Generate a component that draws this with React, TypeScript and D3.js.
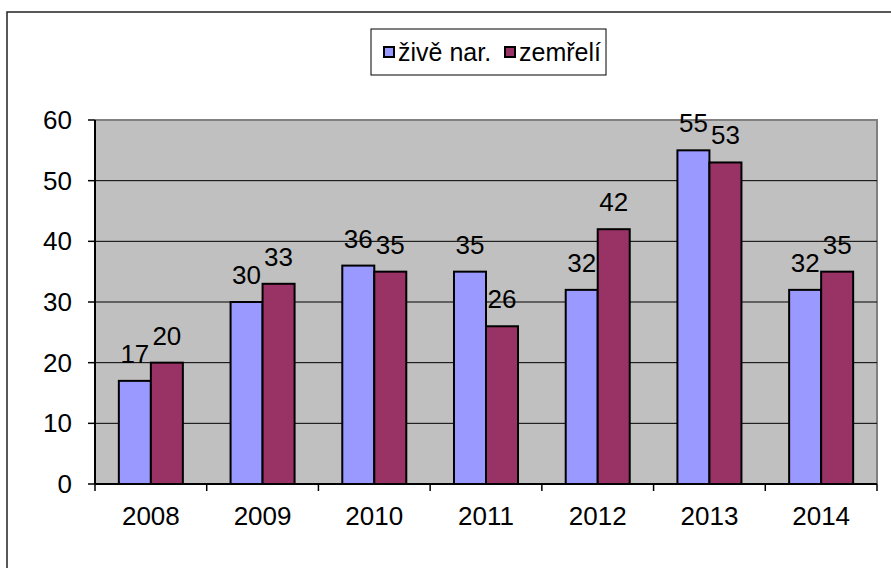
import React, { useRef, useEffect } from 'react'
import * as d3 from 'd3'

const years = ['2008', '2009', '2010', '2011', '2012', '2013', '2014']
const born = [17, 30, 36, 35, 32, 55, 32]
const died = [20, 33, 35, 26, 42, 53, 35]
const seriesNames = ['živě nar.', 'zemřelí']
const yTicks = [0, 10, 20, 30, 40, 50, 60]

const colors = ['#9999FF', '#993366']
const font = '"Liberation Sans", Arial, sans-serif'

const App: React.FC = () => {
  const svgRef = useRef<SVGSVGElement | null>(null)
  const width = 891
  const height = 568
  const margin = { top: 120, right: 14, bottom: 84, left: 95 }

  useEffect(() => {
    if (!svgRef.current) return
    const svg = d3.select(svgRef.current)
    svg.selectAll('*').remove()

    const iw = width - margin.left - margin.right
    const ih = height - margin.top - margin.bottom

    // outer frame (cut off at right and bottom)
    svg.append('rect')
      .attr('x', 7).attr('y', 12)
      .attr('width', 1000).attr('height', 1000)
      .attr('fill', 'white')
      .attr('stroke', '#222').attr('stroke-width', 1.5)

    const x = d3.scaleBand().domain(years).range([0, iw])
    const xs = d3.scaleBand().domain(['0', '1']).range([0, x.bandwidth() * 0.573]).padding(0)
    const groupOffset = (x.bandwidth() - xs.range()[1]) / 2
    const y = d3.scaleLinear().domain([0, 60]).range([ih, 0])

    const chart = svg.append('g')
      .attr('transform', `translate(${margin.left},${margin.top})`)

    // plot area
    chart.append('rect')
      .attr('width', iw).attr('height', ih)
      .attr('fill', '#C0C0C0')
    chart.append('path')
      .attr('d', `M0,0H${iw}V${ih}`)
      .attr('fill', 'none')
      .attr('stroke', '#808080').attr('stroke-width', 2)

    // gridlines
    chart.selectAll('line.grid')
      .data(yTicks.filter(t => t > 0 && t < 60))
      .enter().append('line')
      .attr('x1', 0).attr('x2', iw)
      .attr('y1', d => y(d)).attr('y2', d => y(d))
      .attr('stroke', '#000').attr('stroke-width', 1)

    // bars
    const data = years.map((yr, i) => ({ yr, vals: [born[i], died[i]] }))
    const groups = chart.selectAll('g.grp').data(data).enter().append('g')
      .attr('transform', d => `translate(${(x(d.yr) ?? 0) + groupOffset},0)`)

    groups.selectAll('rect').data(d => d.vals).enter().append('rect')
      .attr('x', (_, j) => xs(String(j)) ?? 0)
      .attr('y', d => y(d))
      .attr('width', xs.bandwidth())
      .attr('height', d => ih - y(d))
      .attr('fill', (_, j) => colors[j])
      .attr('stroke', '#000').attr('stroke-width', 2)

    groups.selectAll('text').data(d => d.vals).enter().append('text')
      .attr('x', (_, j) => (xs(String(j)) ?? 0) + xs.bandwidth() / 2)
      .attr('y', d => y(d) - 18)
      .attr('text-anchor', 'middle')
      .style('font-family', font).style('font-size', '26px')
      .text(d => d)

    // y axis
    chart.append('line')
      .attr('x1', 0).attr('x2', 0).attr('y1', 0).attr('y2', ih)
      .attr('stroke', '#000').attr('stroke-width', 2)
    chart.selectAll('line.ytick').data(yTicks).enter().append('line')
      .attr('x1', -7).attr('x2', 0)
      .attr('y1', d => y(d)).attr('y2', d => y(d))
      .attr('stroke', '#000').attr('stroke-width', 1.5)
    chart.selectAll('text.ylab').data(yTicks).enter().append('text')
      .attr('x', -23).attr('y', d => y(d))
      .attr('dy', '0.35em')
      .attr('text-anchor', 'end')
      .style('font-family', font).style('font-size', '26px')
      .text(d => d)

    // x axis
    chart.append('line')
      .attr('x1', 0).attr('x2', iw).attr('y1', ih).attr('y2', ih)
      .attr('stroke', '#000').attr('stroke-width', 2)
    const bounds = [...years.map(yr => x(yr) ?? 0), iw]
    chart.selectAll('line.xtick').data(bounds).enter().append('line')
      .attr('x1', d => d).attr('x2', d => d)
      .attr('y1', ih).attr('y2', ih + 7)
      .attr('stroke', '#000').attr('stroke-width', 1.5)
    chart.selectAll('text.xlab').data(years).enter().append('text')
      .attr('x', d => (x(d) ?? 0) + x.bandwidth() / 2)
      .attr('y', ih + 41)
      .attr('text-anchor', 'middle')
      .style('font-family', font).style('font-size', '26px')
      .text(d => d)

    // legend
    const legend = svg.append('g').attr('transform', 'translate(371,29)')
    legend.append('rect')
      .attr('width', 235).attr('height', 46)
      .attr('fill', 'white').attr('stroke', '#000').attr('stroke-width', 1)
    const legendX = [13, 134]
    seriesNames.forEach((name, i) => {
      legend.append('rect')
        .attr('x', legendX[i]).attr('y', 18)
        .attr('width', 10).attr('height', 10)
        .attr('fill', colors[i]).attr('stroke', '#000').attr('stroke-width', 2)
      legend.append('text')
        .attr('x', legendX[i] + 14).attr('y', 32)
        .style('font-family', font).style('font-size', '25px')
        .text(name)
    })
  }, [])

  return (
    <svg ref={svgRef} width={width} height={height}
      style={{ position: 'absolute', left: 0, top: 0, background: 'white' }} />
  )
}

export default App
